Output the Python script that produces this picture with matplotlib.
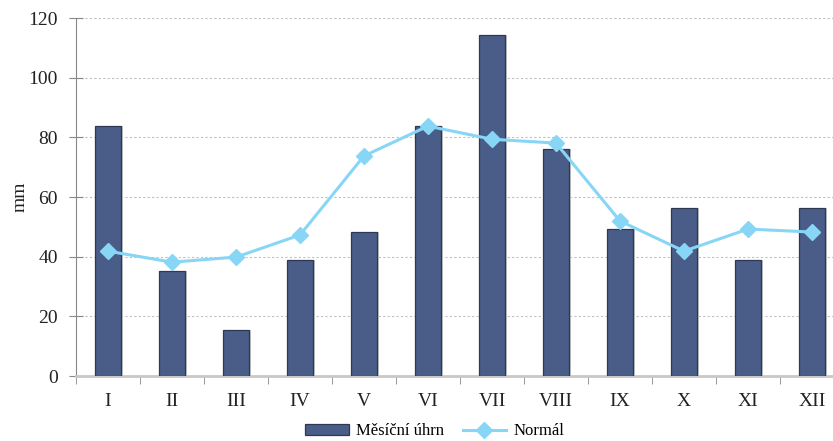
import numpy as np
import matplotlib.pyplot as plt
from matplotlib.ticker import FixedLocator

mesice = ["I", "II", "III", "IV", "V", "VI", "VII", "VIII", "IX", "X", "XI", "XII"]
uhrn = [84, 35.2, 15.4, 39, 48.3, 84, 114.2, 76, 49.3, 56.3, 39, 56.3]
normal = [41.9, 38.2, 39.9, 47.3, 73.8, 83.8, 79.4, 78.1, 52, 41.9, 49.3, 48.3]

plt.rcParams['font.family'] = ['Liberation Serif', 'DejaVu Serif']

fig = plt.figure(figsize=(8.33, 4.41), dpi=100)
ax = fig.add_axes([0.0912, 0.147, 0.922, 0.812])

x = np.arange(len(mesice))
# lehky stin vpravo od sloupcu
ax.bar(x + 0.03, uhrn, width=0.42, color="#c8c8c8", zorder=2)
sloupce = ax.bar(x, uhrn, width=0.42, color="#495d88", edgecolor="#2c3854", linewidth=0.9,
                 zorder=3, label="Měsíční úhrn")
cara, = ax.plot(x, normal, color="#87d6f6", linewidth=2.2, marker="D", markersize=8,
                zorder=4, label="Normál")

ax.set_xlim(-0.5, 11.5)
ax.set_ylim(0, 120)
ax.set_yticks(range(0, 121, 20))
ax.set_xticks(x)
ax.set_xticklabels(mesice)
ax.xaxis.set_minor_locator(FixedLocator(np.arange(-0.5, 12, 1)))
ax.tick_params(axis="x", which="major", length=0, pad=12, labelsize=14, colors="#222222")
ax.tick_params(axis="x", which="minor", length=6, direction="out", color="#888888")
ax.tick_params(axis="y", length=10, direction="inout", color="#888888",
               labelsize=14, labelcolor="#222222", pad=8)
ax.yaxis.grid(True, linestyle=(0, (2, 2)), color="#c0c0c0", linewidth=0.8)
ax.set_axisbelow(True)

for s in ["top", "right"]:
    ax.spines[s].set_visible(False)
ax.spines["left"].set_color("#888888")
ax.spines["bottom"].set_color("#c8c8c8")
ax.spines["bottom"].set_linewidth(2)

ax.set_ylabel("mm", fontsize=14, color="#222222")
ax.yaxis.set_label_coords(-0.062, 0.5)

fig.legend(handles=[sloupce, cara], loc="center", bbox_to_anchor=(0.522, 0.022), ncol=2,
           frameon=False, fontsize=12, handlelength=2.6, handleheight=0.6,
           columnspacing=1.1, handletextpad=0.45, borderpad=0)

fig.savefig("out.png", dpi=100)
